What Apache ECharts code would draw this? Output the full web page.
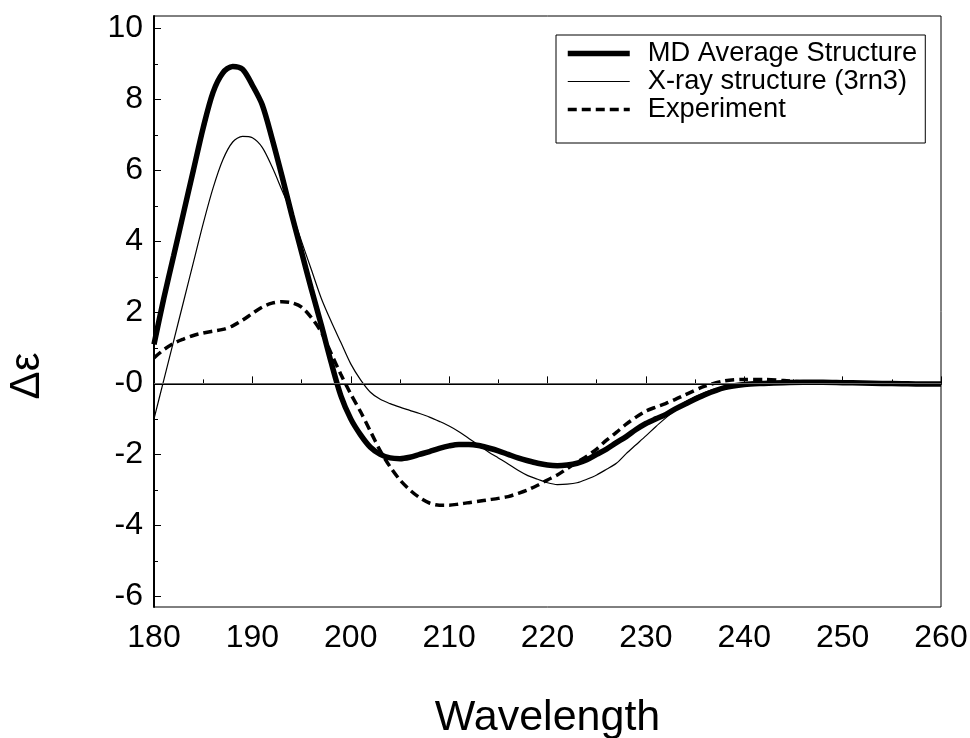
<!DOCTYPE html>
<html>
<head>
<meta charset="utf-8">
<script src="https://cdn.jsdelivr.net/npm/echarts@6/dist/echarts.min.js"></script>
<style>html,body{margin:0;padding:0;background:#fff}#c{width:970px;height:738px}</style>
</head>
<body>
<div id="c"></div>
<script>
const wavelength = [180,181,182,183,184,185,186,187,188,189,190,191,192,193,194,195,196,197,198,199,
  200,201,202,203,204,205,206,207,208,209,210,211,212,213,214,215,216,217,218,219,
  220,221,222,223,224,225,226,227,228,229,230,231,232,233,234,236,238,240,242,244,246,248,250,252,254,256,258,260];
const mdAverage = [1.1,2.4,3.6,4.8,6.0,7.2,8.2,8.75,8.93,8.85,8.4,7.85,6.9,5.85,4.75,3.7,2.65,1.65,0.6,-0.35,
  -1.0,-1.45,-1.8,-2.0,-2.1,-2.12,-2.08,-2.0,-1.92,-1.83,-1.76,-1.72,-1.72,-1.75,-1.82,-1.9,-2.0,-2.1,-2.18,-2.25,
  -2.3,-2.32,-2.3,-2.25,-2.15,-2.0,-1.85,-1.67,-1.5,-1.3,-1.13,-1.0,-0.88,-0.72,-0.58,-0.32,-0.12,-0.03,0.0,0.02,0.03,0.03,0.02,0.01,0.0,-0.01,-0.02,-0.02];
const xray = [-1.0,0.1,1.2,2.3,3.4,4.5,5.5,6.3,6.8,6.96,6.92,6.65,6.1,5.45,4.8,4.0,3.2,2.4,1.75,1.15,
  0.55,0.1,-0.25,-0.45,-0.57,-0.67,-0.76,-0.85,-0.95,-1.07,-1.2,-1.36,-1.55,-1.74,-1.93,-2.1,-2.27,-2.45,-2.6,-2.7,
  -2.8,-2.85,-2.84,-2.8,-2.7,-2.58,-2.42,-2.25,-1.98,-1.73,-1.48,-1.22,-0.98,-0.75,-0.52,-0.25,-0.1,-0.04,0.0,0.01,0.02,0.02,0.02,0.01,0.0,-0.01,-0.02,-0.02];
const experiment = [0.72,0.95,1.13,1.25,1.35,1.42,1.47,1.52,1.62,1.78,1.97,2.15,2.26,2.3,2.27,2.15,1.85,1.45,0.85,0.25,
  -0.3,-0.8,-1.35,-1.9,-2.35,-2.72,-3.0,-3.22,-3.37,-3.43,-3.43,-3.4,-3.36,-3.32,-3.28,-3.24,-3.19,-3.1,-3.0,-2.87,
  -2.72,-2.58,-2.4,-2.22,-2.05,-1.85,-1.6,-1.38,-1.15,-0.95,-0.78,-0.67,-0.57,-0.45,-0.32,-0.08,0.07,0.11,0.11,0.08,0.04,0.02,0.02,0.01,0.0,-0.01,-0.02,-0.02];
const seriesNames = ['MD Average Structure','X-ray structure (3rn3)','Experiment'];
const yMajorTicks = [-6,-4,-2,0,2,4,6,8,10];
const yMinorTicks = [-5,-3,-1,1,3,5,7,9];

const FONT = "'Liberation Sans', Arial, sans-serif";
const styles = [
  {width:5.5, type:'solid'},
  {width:1.2, type:'solid'},
  {width:3.5, type:[9,5]}
];
const chart = echarts.init(document.getElementById('c'), null, {renderer:'canvas'});
const pairs = arr => wavelength.map((x,i)=>[x, arr[i]]);
chart.setOption({
  animation:false,
  backgroundColor:'#fff',
  textStyle:{fontFamily:FONT, color:'#000'},
  grid:{left:154, right:29, top:16, bottom:131, show:true, borderColor:'#000', borderWidth:1, containLabel:false, outerBoundsMode:'none'},
  legend:{
    orient:'vertical', left:556, top:35,
    data:seriesNames.map((n,i)=>({name:n, lineStyle:{color:'#000', width:styles[i].width, type:styles[i].type}})),
    itemWidth:62, itemHeight:14, itemGap:1,
    itemStyle:{color:'rgba(0,0,0,0)', borderWidth:0, opacity:0},
    borderColor:'#000', borderWidth:1, padding:[5,8,20,9],
    textStyle:{fontFamily:FONT, fontSize:27.3, color:'#000', lineHeight:26.5, padding:[0,0,0,13]},
    selectedMode:false
  },
  xAxis:{
    type:'value', min:180, max:260, interval:10,
    axisLine:{show:true, lineStyle:{color:'#000', width:2}},
    axisTick:{show:true, inside:true, length:7, lineStyle:{color:'#000', width:1}},
    minorTick:{show:true, splitNumber:2, length:4, lineStyle:{color:'#000', width:1}},
    axisLabel:{fontFamily:FONT, fontSize:32, color:'#000', margin:15, showMinLabel:true, showMaxLabel:true},
    splitLine:{show:false},
    name:'Wavelength', nameLocation:'middle', nameGap:90,
    nameTextStyle:{fontFamily:FONT, fontSize:43, color:'#000'}
  },
  yAxis:[{
    type:'value', min:-6.3, max:10.35,
    axisLine:{show:true, lineStyle:{color:'#000', width:2}},
    axisTick:{show:true, inside:true, length:7, customValues:yMajorTicks, lineStyle:{color:'#000', width:1}},
    axisLabel:{fontFamily:FONT, fontSize:32, color:'#000', margin:11, customValues:yMajorTicks,
      formatter: v => (v===0 ? '-0' : String(v))},
    splitLine:{show:false}
  },{
    type:'value', min:-6.3, max:10.35, position:'left',
    axisLine:{show:false},
    axisTick:{show:true, inside:true, length:4, customValues:yMinorTicks, lineStyle:{color:'#000', width:1}},
    axisLabel:{show:false},
    splitLine:{show:false}
  }],
  graphic:[{
    type:'text', x:27, y:376, rotation:Math.PI/2,
    style:{text:'Δε', fontFamily:FONT, fontSize:42, fill:'#000', align:'center', verticalAlign:'middle'}
  }],
  series:[
    {name:seriesNames[0], type:'line', data:pairs(mdAverage), yAxisIndex:0, showSymbol:false, symbol:'none', smooth:0.3,
      lineStyle:{color:'#000', width:styles[0].width}, itemStyle:{color:'#000'}, z:3},
    {name:seriesNames[1], type:'line', data:pairs(xray), yAxisIndex:0, showSymbol:false, symbol:'none', smooth:0.3,
      lineStyle:{color:'#000', width:styles[1].width}, itemStyle:{color:'#000'}, z:2,
      markLine:{silent:true, symbol:'none', label:{show:false}, lineStyle:{color:'#666', width:1, type:'solid'}, data:[{yAxis:0}]}},
    {name:seriesNames[2], type:'line', data:pairs(experiment), yAxisIndex:0, showSymbol:false, symbol:'none', smooth:0.3,
      lineStyle:{color:'#000', width:styles[2].width, type:styles[2].type}, itemStyle:{color:'#000'}, z:2}
  ]
});
</script>
</body>
</html>
